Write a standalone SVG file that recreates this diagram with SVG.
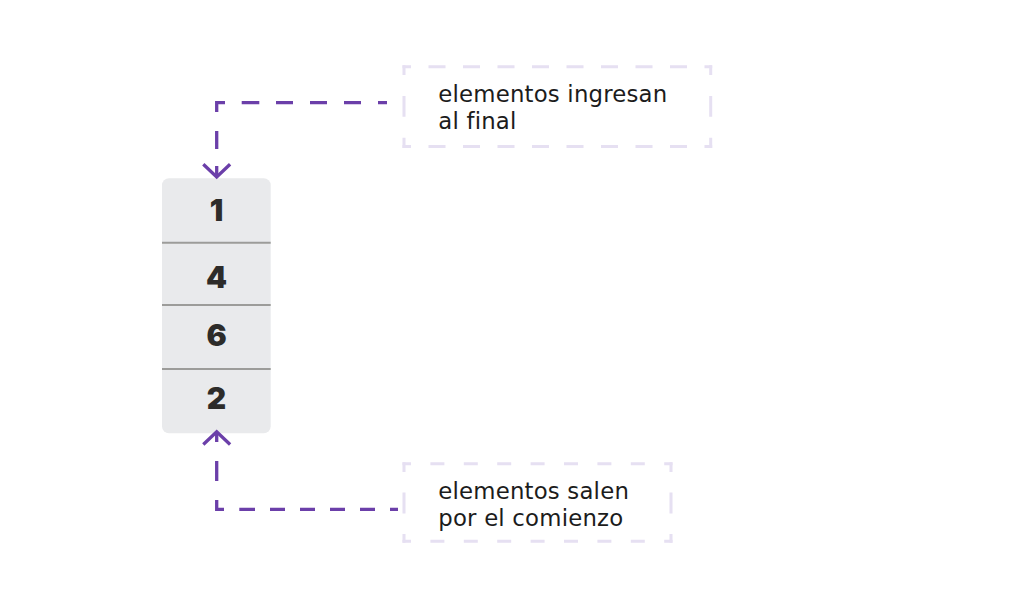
<svg xmlns="http://www.w3.org/2000/svg" width="1024" height="612" viewBox="0 0 1024 612">
  <style>
    .label { font-family: "DejaVu Sans", "Liberation Sans", sans-serif; font-size: 22.8px; letter-spacing: 0.2px; fill: #1c1c1c; }
    .num { font-family: Inter, "Liberation Sans", sans-serif; font-size: 30px; font-weight: 900; fill: #2d2c2a; text-anchor: middle; }
    .box { stroke: #e6e0f2; stroke-width: 3; fill: none; }
    .conn { stroke: #6b3fa9; stroke-width: 3.3; fill: none; }
    .divider { stroke: #9c9c9a; stroke-width: 2; }
  </style>
  <rect width="1024" height="612" fill="#ffffff"/>

  <g id="queue">
    <rect x="162" y="178.3" width="108.7" height="255" rx="7" fill="#e9eaec"/>
    <line class="divider" x1="162" y1="242.7" x2="270.7" y2="242.7"/>
    <line class="divider" x1="162" y1="305" x2="270.7" y2="305"/>
    <line class="divider" x1="162" y1="369" x2="270.7" y2="369"/>
    <text class="num" x="216.5" y="221">1</text>
    <text class="num" x="216.5" y="288.3">4</text>
    <text class="num" x="216.5" y="346">6</text>
    <text class="num" x="216.5" y="409.3">2</text>
  </g>

  <g id="note-ingresan">
    <line class="box" x1="402.5" y1="66.7" x2="712.2" y2="66.7" stroke-dasharray="17 17.5" stroke-dashoffset="8.5"/>
    <line class="box" x1="402.5" y1="146.5" x2="712.2" y2="146.5" stroke-dasharray="17 17.5" stroke-dashoffset="8.5"/>
    <line class="box" x1="404" y1="65.2" x2="404" y2="148" stroke-dasharray="20.7 21" stroke-dashoffset="10.9"/>
    <line class="box" x1="710.7" y1="65.2" x2="710.7" y2="148" stroke-dasharray="20.7 21" stroke-dashoffset="10.9"/>
    <text class="label" x="438.3" y="102.3">elementos ingresan</text>
    <text class="label" x="438.3" y="129.2">al final</text>
  </g>

  <g id="note-salen">
    <line class="box" x1="402.5" y1="463.7" x2="672.5" y2="463.7" stroke-dasharray="14 19.4" stroke-dashoffset="5.5"/>
    <line class="box" x1="402.5" y1="541.3" x2="672.5" y2="541.3" stroke-dasharray="14 19.4" stroke-dashoffset="5.5"/>
    <line class="box" x1="404" y1="462.2" x2="404" y2="542.8" stroke-dasharray="21 20.5" stroke-dashoffset="11.2"/>
    <line class="box" x1="671" y1="462.2" x2="671" y2="542.8" stroke-dasharray="21 20.5" stroke-dashoffset="11.2"/>
    <text class="label" x="438.3" y="498.8">elementos salen</text>
    <text class="label" x="438.3" y="525.7">por el comienzo</text>
  </g>

  <g id="connectors">
    <path class="conn" d="M216.7 176 V102.7 H387" stroke-dasharray="10 17 18 19 17.6 16.7 17.6 16.7 17 17 17 17 17 17 17 17 20 20"/>
    <polyline class="conn" points="203.3,164.2 216.7,177 230.1,164.2"/>
    <path class="conn" d="M216.7 433 V509.3 H398" stroke-dasharray="9 19 20 19 16.6 15.3 15.7 15 15 15 15 15 15 15 15 15 15 15"/>
    <polyline class="conn" points="203.3,444.5 216.7,431.7 230.1,444.5"/>
  </g>
</svg>
